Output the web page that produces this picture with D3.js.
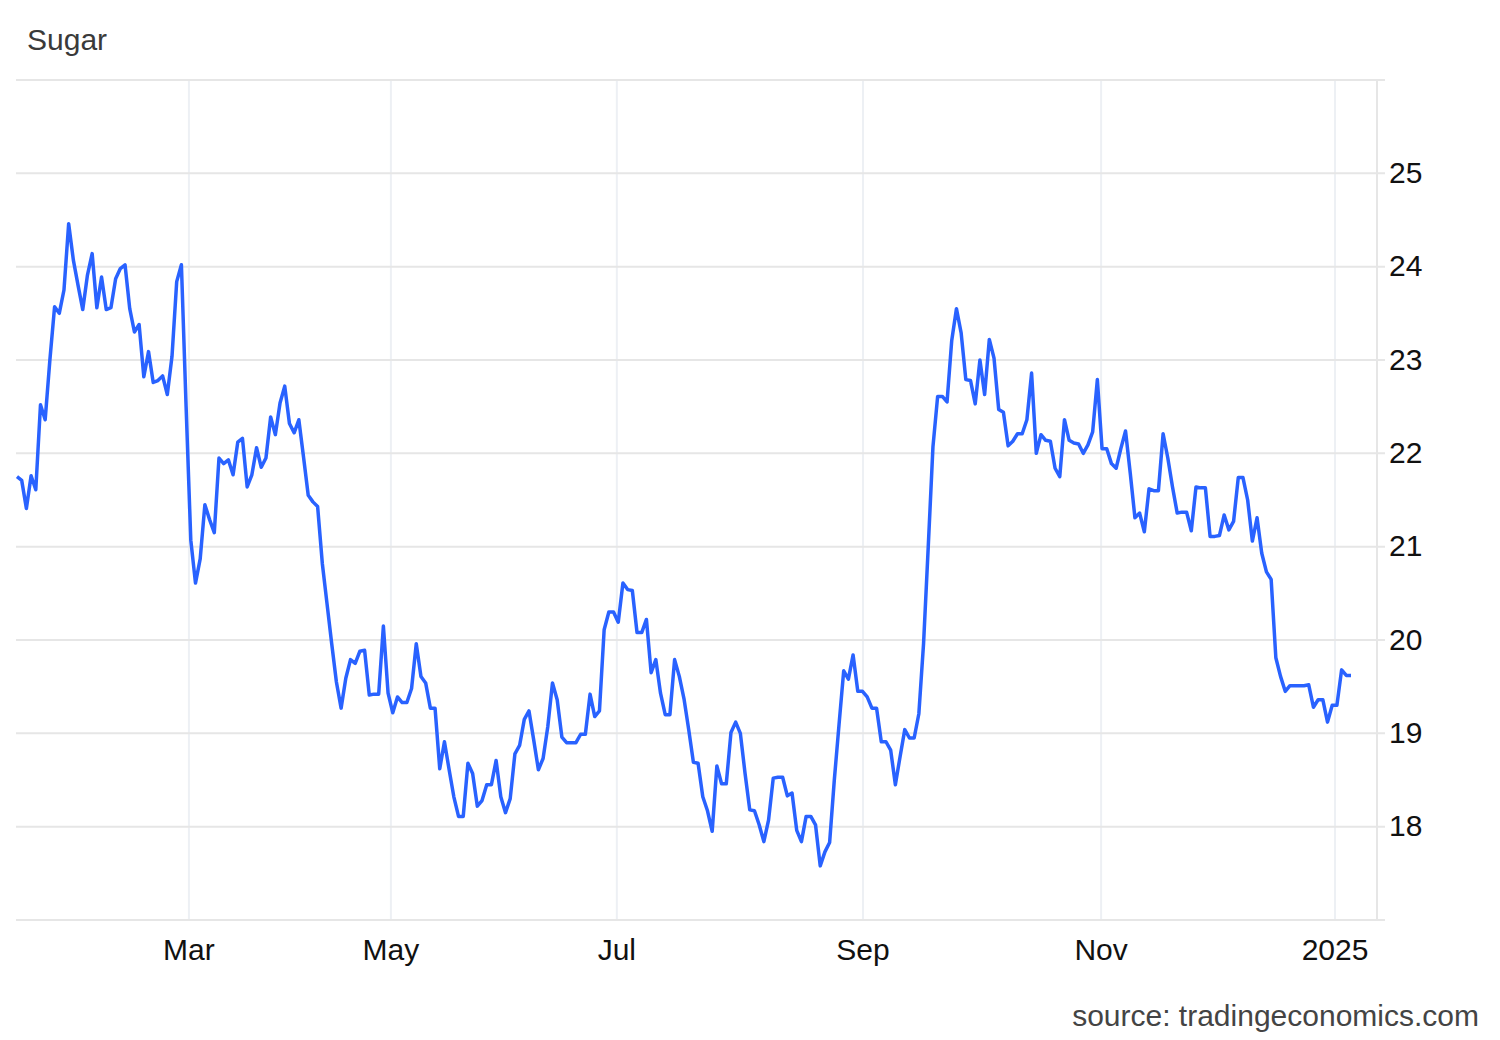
<!DOCTYPE html>
<html>
<head>
<meta charset="utf-8">
<script src="https://cdn.jsdelivr.net/npm/d3@7"></script>
<style>
  html, body { margin: 0; padding: 0; background: #fff; }
  svg { display: block; }
  text { font-family: "Liberation Sans", Arial, sans-serif; }
</style>
</head>
<body>
<svg id="chart" width="1500" height="1040"></svg>
<script>
// ---- data ----
const title = "Sugar";
const source = "source: tradingeconomics.com";

// daily closing values, in order (one per observation)
const sugar = [
  21.75, 21.71, 21.41, 21.76, 21.61, 22.52, 22.36, 23.00, 23.57, 23.50,
  23.75, 24.46, 24.07, 23.80, 23.54, 23.91, 24.14, 23.56, 23.89, 23.54,
  23.56, 23.87, 23.98, 24.02, 23.55, 23.30, 23.38, 22.82, 23.09, 22.76,
  22.78, 22.83, 22.63, 23.04, 23.84, 24.02, 22.50, 21.07, 20.61, 20.87,
  21.45, 21.29, 21.15, 21.95, 21.89, 21.93, 21.77, 22.12, 22.16, 21.64,
  21.77, 22.06, 21.85, 21.95, 22.39, 22.20, 22.54, 22.72, 22.32, 22.22,
  22.36, 21.96, 21.55, 21.48, 21.43, 20.82, 20.39, 19.96, 19.55, 19.27,
  19.59, 19.79, 19.75, 19.88, 19.89, 19.41, 19.42, 19.42, 20.15, 19.43,
  19.22, 19.39, 19.33, 19.33, 19.48, 19.96, 19.61, 19.54, 19.27, 19.27,
  18.62, 18.91, 18.61, 18.32, 18.11, 18.11, 18.68, 18.57, 18.22, 18.28,
  18.45, 18.45, 18.71, 18.32, 18.15, 18.30, 18.78, 18.87, 19.15, 19.24,
  18.93, 18.61, 18.73, 19.07, 19.54, 19.36, 18.96, 18.90, 18.90, 18.90,
  18.99, 18.99, 19.42, 19.18, 19.24, 20.11, 20.30, 20.30, 20.19, 20.61,
  20.54, 20.53, 20.08, 20.08, 20.22, 19.65, 19.79, 19.43, 19.20, 19.20,
  19.79, 19.61, 19.37, 19.04, 18.69, 18.68, 18.32, 18.17, 17.95, 18.65,
  18.46, 18.46, 19.01, 19.12, 19.00, 18.57, 18.18, 18.17, 18.02, 17.84,
  18.07, 18.52, 18.53, 18.53, 18.33, 18.36, 17.96, 17.84, 18.11, 18.11,
  18.02, 17.58, 17.73, 17.83, 18.50, 19.09, 19.67, 19.58, 19.84, 19.45,
  19.45, 19.39, 19.27, 19.27, 18.91, 18.91, 18.82, 18.45, 18.75, 19.04,
  18.95, 18.95, 19.21, 19.96, 21.00, 22.07, 22.61, 22.61, 22.55, 23.21,
  23.55, 23.29, 22.79, 22.78, 22.53, 23.00, 22.63, 23.22, 23.02, 22.47,
  22.44, 22.08, 22.13, 22.21, 22.21, 22.36, 22.86, 22.00, 22.20, 22.14,
  22.13, 21.84, 21.75, 22.36, 22.14, 22.11, 22.10, 22.00, 22.09, 22.23,
  22.79, 22.05, 22.05, 21.89, 21.84, 22.05, 22.24, 21.79, 21.31, 21.36,
  21.16, 21.62, 21.60, 21.60, 22.21, 21.95, 21.64, 21.36, 21.37, 21.37,
  21.17, 21.64, 21.63, 21.63, 21.11, 21.11, 21.12, 21.34, 21.18, 21.27,
  21.74, 21.74, 21.50, 21.06, 21.31, 20.93, 20.73, 20.65, 19.81, 19.61,
  19.45, 19.51, 19.51, 19.51, 19.51, 19.52, 19.28, 19.36, 19.36, 19.12,
  19.30, 19.30, 19.68, 19.62, 19.62
];

// x-axis month ticks (position in observation index) and labels
const xTickLabels = ["Mar", "May", "Jul", "Sep", "Nov", "2025"];
const xTickIndex  = [36.6, 79.6, 127.7, 180.1, 230.8, 280.6];

// y-axis
const yTicks = [18, 19, 20, 21, 22, 23, 24, 25];
const yGrid  = [17, 18, 19, 20, 21, 22, 23, 24, 25, 26];
const yDomain = [17, 26];

// ---- layout ----
const plot = { left: 17, right: 1377, top: 80, bottom: 920, lineEnd: 1351 };

const svg = d3.select("#chart");

const x = d3.scaleLinear().domain([0, sugar.length - 1]).range([plot.left, plot.lineEnd]);
const y = d3.scaleLinear().domain(yDomain).range([plot.bottom, plot.top]);

// vertical grid lines
svg.append("g").selectAll("line").data(xTickIndex).join("line")
  .attr("x1", d => x(d)).attr("x2", d => x(d))
  .attr("y1", plot.top).attr("y2", plot.bottom)
  .attr("stroke", "#edf0f4").attr("stroke-width", 2);

// horizontal grid lines
svg.append("g").selectAll("line").data(yGrid).join("line")
  .attr("x1", plot.left - 1).attr("x2", plot.right + 8)
  .attr("y1", d => y(d)).attr("y2", d => y(d))
  .attr("stroke", "#e6e6e6").attr("stroke-width", 2);

// right axis line
svg.append("line")
  .attr("x1", plot.right).attr("x2", plot.right)
  .attr("y1", plot.top - 1).attr("y2", plot.bottom)
  .attr("stroke", "#e6e6e6").attr("stroke-width", 2);

// y labels
svg.append("g").selectAll("text").data(yTicks).join("text")
  .attr("x", 1389).attr("y", d => y(d) + 9.5)
  .attr("font-size", 30).attr("fill", "#111")
  .text(d => d);

// x labels
svg.append("g").selectAll("text").data(xTickIndex).join("text")
  .attr("x", d => x(d)).attr("y", 960)
  .attr("text-anchor", "middle")
  .attr("font-size", 30).attr("fill", "#111")
  .text((d, i) => xTickLabels[i]);

// series line
const line = d3.line().x((d, i) => x(i)).y(d => y(d));
svg.append("path").datum(sugar)
  .attr("d", line)
  .attr("fill", "none")
  .attr("stroke", "#2962ff")
  .attr("stroke-width", 3.5)
  .attr("stroke-linejoin", "round");

// title
svg.append("text").attr("x", 27).attr("y", 50)
  .attr("font-size", 30).attr("fill", "#3a3a3a").text(title);

// source
svg.append("text").attr("x", 1479).attr("y", 1026)
  .attr("text-anchor", "end")
  .attr("font-size", 30).attr("fill", "#444").text(source);
</script>
</body>
</html>
